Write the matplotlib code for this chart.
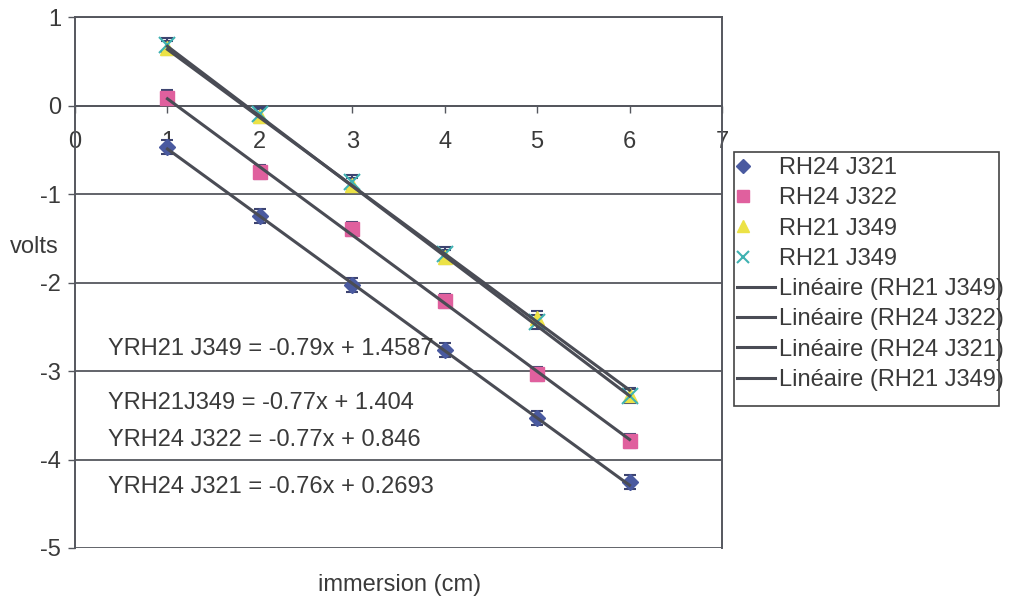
import matplotlib
matplotlib.use("Agg")
import matplotlib.pyplot as plt
from matplotlib.legend_handler import HandlerLine2D
from matplotlib.patches import Rectangle
import numpy as np

# ---- data ----
x = [1, 2, 3, 4, 5, 6]
rh24_j321 = [-0.47, -1.25, -2.03, -2.76, -3.53, -4.25]
rh24_j322 = [0.09, -0.75, -1.40, -2.21, -3.03, -3.79]
rh21_j349_a = [0.65, -0.12, -0.90, -1.71, -2.40, -3.27]
rh21_j349_b = [0.68, -0.10, -0.87, -1.68, -2.45, -3.28]
err = 0.08

series_labels = ["RH24 J321", "RH24 J322", "RH21 J349", "RH21 J349"]
fit_labels = ["Linéaire (RH21 J349)", "Linéaire (RH24 J322)",
              "Linéaire (RH24 J321)", "Linéaire (RH21 J349)"]
fit_slopes = [-0.79, -0.77, -0.76, -0.77]
fit_intercepts = [1.4587, 0.846, 0.2693, 1.404]
eq_texts = ["YRH21 J349 = -0.79x + 1.4587", "YRH21J349 = -0.77x + 1.404",
            "YRH24 J322 = -0.77x + 0.846", "YRH24 J321 = -0.76x + 0.2693"]
eq_y = [-2.75, -3.36, -3.78, -4.31]
xticks = [0, 1, 2, 3, 4, 5, 6, 7]
yticks = [1, 0, -1, -2, -3, -4, -5]

plt.rcParams['font.family'] = ['Liberation Sans', 'DejaVu Sans']
plt.rcParams['axes.unicode_minus'] = False
txt = '#3a3a3a'
axc = '#55575e'
fs = 17


class LeftMarker(HandlerLine2D):
    def create_artists(self, legend, orig_handle, xdescent, ydescent, width,
                       height, fontsize, trans):
        arts = super().create_artists(legend, orig_handle, xdescent, ydescent,
                                      width, height, fontsize, trans)
        for a in arts:
            xd = np.asarray(a.get_xdata(), dtype=float)
            if len(xd) == 3:
                xd[1] = xd[0] + 0.17 * (xd[-1] - xd[0])
                a.set_xdata(xd)
        return arts


fig = plt.figure(figsize=(10.12, 6.0), dpi=100)
ax = fig.add_axes([75/1012, 1-548/600, (722-75)/1012, (548-17)/600])

ax.set_xlim(0, 7)
ax.set_ylim(-5, 1)
ax.set_yticks(yticks)
ax.set_xticks(xticks)
ax.grid(axis='y', color=axc, linewidth=1.3)
ax.set_axisbelow(True)

for s in ['top', 'right', 'left']:
    ax.spines[s].set_color(axc)
    ax.spines[s].set_linewidth(1.4)
ax.spines['bottom'].set_position(('data', 0))
ax.spines['bottom'].set_color(axc)
ax.spines['bottom'].set_linewidth(1.4)

ax.tick_params(axis='x', direction='out', length=5, width=1, colors=axc,
               labelcolor=txt, labelsize=fs, pad=13)
ax.tick_params(axis='y', direction='out', length=5, width=1, colors=axc,
               labelcolor=txt, labelsize=fs, pad=5)

ecol = '#3d4470'
specs = [
    (rh24_j321, 'D', '#4a5aa0', 8, None),
    (rh24_j322, 's', '#e0609e', 10, None),
    (rh21_j349_a, '^', '#ece246', 10, None),
    (rh21_j349_b, 'x', '#3fb2b2', 11, 1.5),
]
handles = []
hmap = {}
for (vals, m, c, ms, mew), lab in zip(specs, series_labels):
    ax.errorbar(x, vals, yerr=err, fmt='none', ecolor=ecol, elinewidth=1.5,
                capsize=4, capthick=1.5, zorder=3)
    kw = dict(marker=m, linestyle='none', markersize=ms, color=c, zorder=4,
              label=lab)
    if m == 'x':
        kw['markeredgewidth'] = mew
    else:
        kw['markeredgecolor'] = c
    h, = ax.plot(x, vals, **kw)
    handles.append(h)
    hmap[h] = LeftMarker()

xf = np.array([x[0], x[-1]], dtype=float)
for sl, ic, lab in zip(fit_slopes, fit_intercepts, fit_labels):
    h, = ax.plot(xf, sl * xf + ic, color='#4a4c55', linewidth=2.2, zorder=5,
                 label=lab)
    handles.append(h)

for t, yy in zip(eq_texts, eq_y):
    ax.text(0.36, yy, t, fontsize=fs, color=txt, va='center', ha='left', zorder=6)

fig.text(34/1012, 1-247/600, "volts", fontsize=fs, color=txt, ha='center', va='center')
fig.text(400/1012, 1-585/600, "immersion (cm)", fontsize=fs, color=txt, ha='center', va='center')

leg = fig.legend(handles=handles, handler_map=hmap, loc='upper left',
                 bbox_to_anchor=(737/1012, 1-157/600), fontsize=fs,
                 frameon=False, markerscale=0.85,
                 handlelength=1.6, handletextpad=0.2, borderpad=0,
                 labelspacing=0.35, borderaxespad=0)
for t in leg.get_texts():
    t.set_color(txt)

fig.add_artist(Rectangle((734/1012, 1-406/600), (999-734)/1012, (406-152)/600,
                         transform=fig.transFigure, fill=False,
                         edgecolor='#444444', linewidth=1.2))

fig.savefig("out.png", dpi=100)
